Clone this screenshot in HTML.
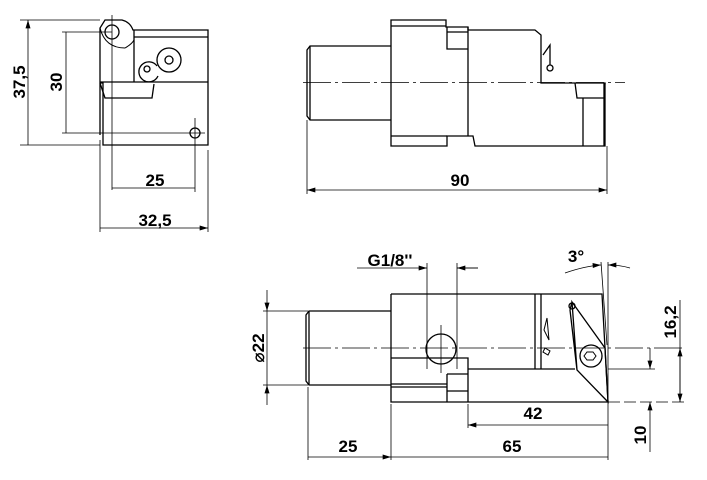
<!DOCTYPE html>
<html><head><meta charset="utf-8"><style>
html,body{margin:0;padding:0;background:#fff}
svg{display:block}
text{font-family:"Liberation Sans","DejaVu Sans",sans-serif;font-weight:bold;font-size:17px;fill:#000}
</style></head><body>
<svg width="707" height="480" viewBox="0 0 707 480" xmlns="http://www.w3.org/2000/svg">
<defs>
<marker id="a" viewBox="0 0 10 6" refX="10" refY="3" markerWidth="12" markerHeight="5" orient="auto-start-reverse" markerUnits="userSpaceOnUse"><path d="M0,0L10,3L0,6z" fill="#000"/></marker>
</defs>
<g fill="none" stroke="#000" stroke-width="1.3">
<!-- LEFT VIEW -->
<path d="M100,135 V28 L105,20 H122 Q130,22 133,30 L135,30 H208 V145 H103 V83 L100,83"/>
<path d="M134,30 V82 M134,37 H208 M100,82 H208 M100,83 L105,98 H152 L154,84"/>
<path d="M100,28 Q105,48 125,48 Q132,44 134,40" stroke-width="1"/>
<circle cx="112" cy="32" r="7"/>
<circle cx="195" cy="133" r="5"/>
<circle cx="169" cy="60" r="12"/><circle cx="169" cy="60" r="4"/>
<path d="M157,66 A10,10 0 1 0 158,76" /><circle cx="147" cy="69" r="3"/>
</g>
<g fill="none" stroke="#000" stroke-width="0.8">
<path d="M20,20 H100 M20,145 H100 M62,32 H112 M62,133 H205 M112,15 V190 M195,118 V192 M100,140 V232 M208,150 V232"/>
<path d="M28,20 V145 M66,32 V133 M112,188 H195 M100,228 H208" marker-start="url(#a)" marker-end="url(#a)"/>
</g>
<text transform="translate(19,82) rotate(-90)" text-anchor="middle" dy="6">37,5</text>
<text transform="translate(56,82) rotate(-90)" text-anchor="middle" dy="6">30</text>
<text x="155" y="186" text-anchor="middle">25</text>
<text x="155" y="226" text-anchor="middle">32,5</text>

<!-- TOP RIGHT VIEW -->
<g fill="none" stroke="#000" stroke-width="1.3">
<path d="M391,46 H310 L307,50 V116 L310,120 H391"/>
<path d="M310,46 V120"/>
<path d="M391,20 H446 V27 H468 V30 H535 L541,35 V83 H605 V146 H475 L473,136 H447 V146 H391 Z"/>
<path d="M391,26 H446 M447,27 V49 H468 V27 M447,32 H468 M391,136 H447 M468,30 V136"/>
<path d="M575,83 L577,98 H604 L605,83 M583,98 V146 M604,83 V146"/>
<path d="M543,55 L550,45 V65 M547,68 a3,3 0 1 0 6,0 a3,3 0 1 0 -6,0"/>
</g>
<g fill="none" stroke="#000" stroke-width="0.8">
<path d="M303,82.5 H625" stroke-dasharray="28,4,3,4"/>
<path d="M307,120 V194 M607,146 V194"/>
<path d="M307,190 H607" marker-start="url(#a)" marker-end="url(#a)"/>
</g>
<text x="460" y="186" text-anchor="middle">90</text>

<!-- BOTTOM VIEW -->
<g fill="none" stroke="#000" stroke-width="1.3">
<path d="M391,311 H309 L306,315 V381 L309,385 H391"/>
<path d="M309,311 V385"/>
<path d="M391,294 H602 L608,402 H468 M391,294 V402 H468 V358 H391"/>
<path d="M468,369 H575 M535,294 V369 M541,294 V369"/>
<path d="M447,374 V402 M447,374 H468 M447,391 H468 M391,384 H447 M391,387 H447"/>
<path d="M572,302 L605,348 L608,402 L577,370 Z M572,302 L570,310 L577,370"/>
<circle cx="572" cy="306" r="3"/>
<circle cx="591" cy="356" r="11"/>
<path d="M587,352 h6 l3,4 l-3,4 h-6 l-3,-4 z" stroke-width="1"/>
<path d="M547,318 L549,340 L544,330 Z M545,348 l5,3 l-2,4 l-5,-3 z" stroke-width="1"/>
<circle cx="441" cy="349" r="15"/>
</g>
<g fill="none" stroke="#000" stroke-width="0.8">
<path d="M303,348 H683" stroke-dasharray="28,4,3,4"/>
<path d="M441,325 V373"/>
<path d="M427,263 V369 M457,263 V369 M457,268 H478"/>
<path d="M357,268 H427" marker-end="url(#a)"/>
<path d="M478,268 H457" marker-end="url(#a)"/>
<path d="M601,262 L607,345 M608,262 V460"/>
<path d="M565,273 Q585,266 601,265" marker-end="url(#a)"/>
<path d="M630,268 Q620,265 608,265" marker-end="url(#a)"/>
<path d="M263,311 H308 M263,385 H308"/>
<path d="M267,290 V311" marker-end="url(#a)"/>
<path d="M267,405 V385" marker-end="url(#a)"/>
<path d="M267,311 V385"/>
<path d="M608,402 H685" stroke-dasharray="12,4"/>
<path d="M608,369 H655"/>
<path d="M680,300 V348 M680,348 V402" />
<path d="M680,375 V348" marker-end="url(#a)"/>
<path d="M680,375 V402" marker-end="url(#a)"/>
<path d="M650,348 V369" marker-end="url(#a)"/>
<path d="M650,452 V402" marker-end="url(#a)"/>
<path d="M308,387 V460 M391,404 V460 M468,404 V428"/>
<path d="M468,425 H608 M391,457 H608 M308,457 H391" marker-start="url(#a)" marker-end="url(#a)"/>
</g>
<text x="390" y="266" text-anchor="middle">G1/8''</text>
<text x="576" y="262" text-anchor="middle">3°</text>
<text transform="translate(258,348) rotate(-90)" text-anchor="middle" dy="6">⌀22</text>
<text transform="translate(670,322) rotate(-90)" text-anchor="middle" dy="6">16,2</text>
<text transform="translate(640,435) rotate(-90)" text-anchor="middle" dy="6">10</text>
<text x="533" y="419" text-anchor="middle">42</text>
<text x="512" y="452" text-anchor="middle">65</text>
<text x="348" y="452" text-anchor="middle">25</text>
</svg>
</body></html>
